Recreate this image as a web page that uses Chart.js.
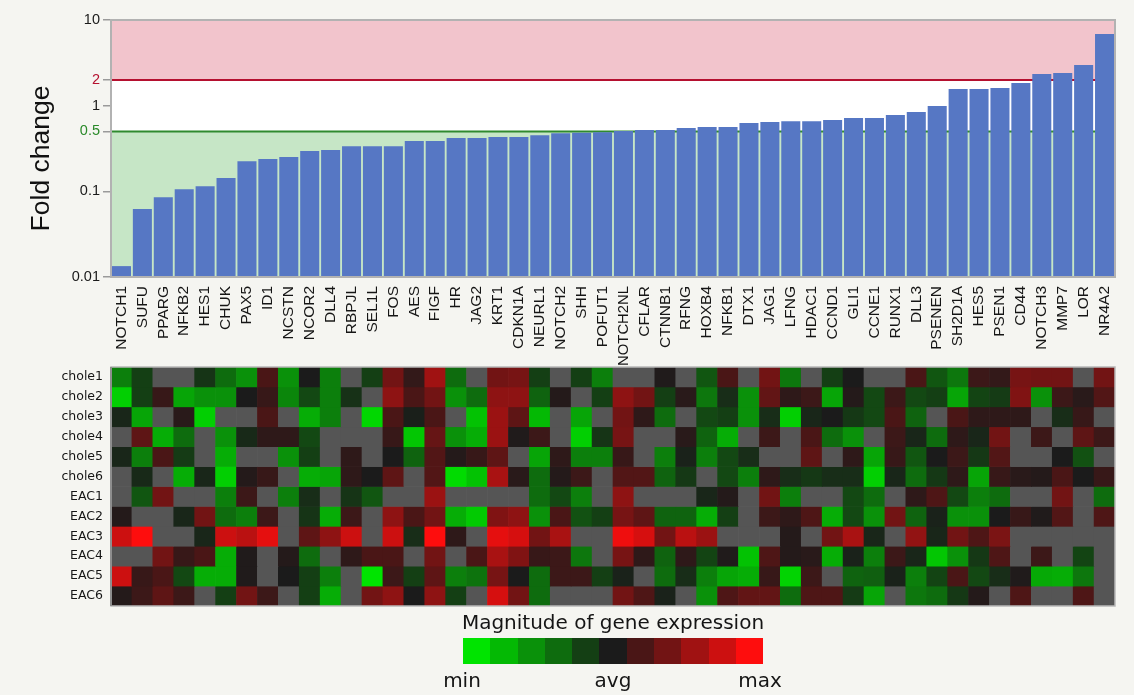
<!DOCTYPE html>
<html>
<head>
<meta charset="utf-8">
<title>Notch pathway gene expression</title>
<script src="https://cdn.jsdelivr.net/npm/chart.js@4.4.1/dist/chart.umd.min.js"></script>
<style>
  html, body { margin: 0; padding: 0; background: #f5f5f1; }
  #wrap { position: relative; width: 1134px; height: 695px; overflow: hidden; }
  #barsCanvas { position: absolute; left: 0; top: 0; }
  #heatCanvas { position: absolute; left: 0; top: 358px; }
  .key-text { position: absolute; font-family: "DejaVu Sans", sans-serif; font-size: 20px; color: #151515;
              line-height: 24px; white-space: nowrap; transform: translateX(-50%); }
  #keyBar { position: absolute; left: 463px; top: 638px; height: 26px; display: flex; }
  #keyBar div { width: 27.3px; height: 26px; }
</style>
</head>
<body>
<div id="wrap">
  <canvas id="barsCanvas" width="1134" height="372"></canvas>
  <canvas id="heatCanvas" width="1134" height="258"></canvas>
  <div class="key-text" style="left:613px; top:610px;">Magnitude of gene expression</div>
  <div id="keyBar"></div>
  <div class="key-text" style="left:462px; top:668px;">min</div>
  <div class="key-text" style="left:613px; top:668px;">avg</div>
  <div class="key-text" style="left:760px; top:668px;">max</div>
</div>
<script>
// ---- data -------------------------------------------------------------
const genes = ['NOTCH1','SUFU','PPARG','NFKB2','HES1','CHUK','PAX5','ID1','NCSTN','NCOR2','DLL4','RBPJL',
  'SEL1L','FOS','AES','FIGF','HR','JAG2','KRT1','CDKN1A','NEURL1','NOTCH2','SHH','POFUT1',
  'NOTCH2NL','CFLAR','CTNNB1','RFNG','HOXB4','NFKB1','DTX1','JAG1','LFNG','HDAC1','CCND1','GLI1',
  'CCNE1','RUNX1','DLL3','PSENEN','SH2D1A','HES5','PSEN1','CD44','NOTCH3','MMP7','LOR','NR4A2'];

const foldChange = [0.0134, 0.062, 0.0855, 0.106, 0.115, 0.143, 0.225, 0.238, 0.251, 0.295, 0.303, 0.337,
  0.337, 0.337, 0.386, 0.386, 0.418, 0.418, 0.43, 0.43, 0.453, 0.478, 0.484, 0.489,
  0.505, 0.519, 0.519, 0.547, 0.562, 0.562, 0.626, 0.643, 0.66, 0.66, 0.679, 0.716,
  0.716, 0.776, 0.842, 0.989, 1.56, 1.56, 1.61, 1.84, 2.34, 2.40, 2.98, 6.86];

const upThreshold = 2;
const downThreshold = 0.5;
const foldTicks = [0.01, 0.1, 0.5, 1, 2, 10];

// relative expression per sample (-5 = min, 0 = avg, 5 = max, null = not measured)
const sampleNames = ['chole1','chole2','chole3','chole4','chole5','chole6','EAC1','EAC2','EAC3','EAC4','EAC5','EAC6'];
const chole1 = [-2.5,-1,null,null,-0.7,-2,-3,1,-3,0,-2.5,null, -1,2,0.5,3,-2,null,2,2.1,-1,null,-1,-2.5,
  null,null,0.1,null,-1.5,1,null,2,-2.3,null,-1,0, null,null,1,-1.5,-2.3,0.7,0.5,2.1,2,2,null,2];
const chole2 = [-4.5,-1,0.6,-3.5,-3,-3,0,0.6,-2.7,-1.2,-2.5,-0.6, null,2.6,1,2,-3,-2,2.6,2.6,-1.8,0.2,null,-1,
  2.6,2,-1,0.3,-2.3,-0.5,-3,1.6,0.4,0.7,-3.5,0.2, -1.2,0.7,-1.2,-1,-3.5,-1.1,-0.9,2.3,-3,0.7,0.3,1.2];
const chole3 = [-0.3,-3.5,null,0.3,-4.5,null,null,1,null,-3.7,-2.5,null, -4.7,1,-0.1,1,null,-4.2,2.9,1.5,-4,null,-3.5,null,
  2,0.4,-2,null,-1.2,-1,-3,-0.5,-4.5,-0.3,0,-0.8, -1.2,1,-1.8,null,1,0.4,0.4,0.4,null,-0.5,0.6,null];
const chole4 = [null,1.5,-3.7,-2,null,-3,-0.4,0.4,0.4,-1.2,null,null, null,0.6,-4.3,1.7,-3,-3.7,2.9,0.1,0.7,null,-4.5,-0.7,
  2.1,null,null,0.3,-1.8,-3.7,null,0.7,null,1,-2,-3, null,0.7,-0.3,-2,0.4,-0.3,2,null,0.7,null,1.5,0.7];
const chole5 = [-0.3,-2.5,1,-0.9,null,-3.7,null,null,-3,-1,null,0.4, null,0,-1.8,1.2,0.2,0.6,1.5,null,-3.5,0.4,-2.5,-2.5,
  0.6,null,-2.5,-0.2,-2.5,-1.2,-0.5,null,null,1.5,null,0.4, -3.5,0.6,-1.5,0,0.7,-0.8,1.2,null,null,0,-1.4,null];
const chole6 = [null,-0.4,null,-3.7,-0.3,-4.5,0.2,0.6,null,-3.7,-3.5,0.4, 0,1.5,null,1.2,-4.8,-4.2,3.2,0.3,-2,0.2,0.7,null,
  1.2,1.2,-1.8,-0.8,null,-1.2,-2.5,0.4,-0.5,-0.8,-0.5,-0.5, -4.5,-0.3,-2,-0.8,0.4,-3.5,0.6,0.3,0.2,1,0,0.6];
const EAC1 = [null,-1.5,2,null,null,-2.5,0.7,null,-2.5,-0.5,null,-0.7, -1.5,null,null,2.9,null,null,null,null,-2,-1.2,-2.5,null,
  2.6,null,null,null,-0.3,0.2,null,2,-2.5,null,null,-1.2, -2,null,0.4,1.1,-1.2,-2.5,-2,null,null,2,null,-2];
const EAC2 = [0.2,null,null,-0.3,2,-2,-2.5,0.7,null,-0.7,-3.7,0.7, null,2.6,1,2,-3.7,-4.4,2.3,2.6,-3,1,-1.4,-1,
  2.1,1.5,-1.8,-1.8,-3.7,-1,null,0.7,0.4,1.1,-3.7,-1.2, -3,2,-1.8,-0.2,-3,-3,0,0.6,0.1,1.2,null,1.1];
const EAC3 = [4,5,null,null,-0.3,4,3.6,4.5,null,1.5,2.6,4, null,4,-0.5,5,0.4,null,4.5,4.2,2,3.2,null,null,
  4.7,4.2,2,3.6,2.9,null,null,null,0.2,null,2,3.2, -0.3,null,2.7,-0.3,2,1.1,2.2,null,null,null,null,null];
const EAC4 = [null,null,2,0.6,1,-3.7,0.1,null,0.2,-2,null,0.4, 1,1,null,2,null,1,3.2,2.3,0.6,0.7,-2.3,null,
  2.1,0.4,-1.8,0.4,-1.1,0.1,-4.2,1.1,0.2,0.3,-3.7,-0.2, -2.5,0.7,-0.3,-4.3,-3,-0.8,1.1,null,0.7,null,-1.1,null];
const EAC5 = [4,0.6,1,-1.2,-3.7,-3.7,0.1,null,0,-1,-2.5,null, -5,0.7,-1,1.5,-2.5,-2.2,2.1,0,-2,0.7,0.7,-1,
  -0.2,null,-2,-0.5,-2.5,-3.5,-3.7,0.6,-4.6,0.7,null,-1.8, -1.7,-0.2,-2.5,-1.1,1,-1.2,-0.5,0.1,-3.6,-3.7,-2.3,null];
const EAC6 = [0.2,0.7,1.5,0.7,null,-1,2,0.7,null,-1,-3.7,null, 2,2.6,0,2.6,-1,null,4.2,2,-2,null,null,null,
  2,1.1,-0.2,null,-3,1.1,1.6,1.6,-2,1.1,1.1,-0.9, -3.5,null,-2.3,-2,-0.8,0.2,null,1.1,null,null,1.1,null];
const sampleRows = [chole1, chole2, chole3, chole4, chole5, chole6, EAC1, EAC2, EAC3, EAC4, EAC5, EAC6];

// colour key, from min (-5) through avg (0) to max (+5)
const levelColors = ['#00e400','#04b904','#0a910a','#0e6c0e','#143f14','#1b1b1b',
                     '#4a1616','#721414','#a01212','#cc1010','#fe0d0d'];
const missingColor = '#555555';

// ---- helpers ----------------------------------------------------------
function hexToRgb(h) {
  return [parseInt(h.slice(1, 3), 16), parseInt(h.slice(3, 5), 16), parseInt(h.slice(5, 7), 16)];
}
function expressionColor(v) {
  if (v === null || v === undefined) return missingColor;
  const t = Math.max(-5, Math.min(5, v)) + 5;
  const i = Math.min(9, Math.floor(t));
  const f = t - i;
  const a = hexToRgb(levelColors[i]), b = hexToRgb(levelColors[i + 1]);
  const c = a.map((x, k) => Math.round(x + (b[k] - x) * f));
  return `rgb(${c[0]},${c[1]},${c[2]})`;
}

const baseFamily = '"Liberation Sans", Arial, sans-serif';
const geneLabelPx = 15.5;
const geneLabelMax = 80;   // longest a rotated gene name may run
const measureCtx = document.createElement('canvas').getContext('2d');
function geneLabelSize(name) {
  measureCtx.font = `${geneLabelPx}px ${baseFamily}`;
  const w = measureCtx.measureText(name).width;
  return w > geneLabelMax ? geneLabelPx * geneLabelMax / w : geneLabelPx;
}

Chart.defaults.font.family = baseFamily;
Chart.defaults.color = '#1a1a1a';
Chart.defaults.animation = false;

// ---- fold-change bar chart -------------------------------------------
const bandsPlugin = {
  id: 'bands',
  beforeDraw(chart) {
    const { ctx, chartArea: a, scales: { y } } = chart;
    const yUp = y.getPixelForValue(upThreshold);
    const yDown = y.getPixelForValue(downThreshold);
    ctx.save();
    ctx.fillStyle = '#f2c4cc';
    ctx.fillRect(a.left, a.top, a.width, yUp - a.top);
    ctx.fillStyle = '#ffffff';
    ctx.fillRect(a.left, yUp, a.width, yDown - yUp);
    ctx.fillStyle = '#c6e6c6';
    ctx.fillRect(a.left, yDown, a.width, a.bottom - yDown);
    // axis title
    ctx.translate(42, (a.top + a.bottom) / 2 + 10);
    ctx.rotate(-Math.PI / 2);
    ctx.font = `26.5px ${baseFamily}`;
    ctx.fillStyle = '#111';
    ctx.textAlign = 'center';
    ctx.textBaseline = 'middle';
    ctx.fillText('Fold change', 0, 0);
    ctx.restore();
  },
  beforeDatasetsDraw(chart) {
    const { ctx, chartArea: a, scales: { y } } = chart;
    ctx.save();
    ctx.lineWidth = 2;
    ctx.strokeStyle = '#b5102f';
    ctx.beginPath();
    ctx.moveTo(a.left, y.getPixelForValue(upThreshold));
    ctx.lineTo(a.right, y.getPixelForValue(upThreshold));
    ctx.stroke();
    ctx.strokeStyle = '#2f8a2f';
    ctx.beginPath();
    ctx.moveTo(a.left, y.getPixelForValue(downThreshold));
    ctx.lineTo(a.right, y.getPixelForValue(downThreshold));
    ctx.stroke();
    ctx.restore();
  },
  afterDraw(chart) {
    const { ctx, chartArea: a } = chart;
    ctx.save();
    ctx.lineWidth = 2;
    ctx.strokeStyle = '#b2b2b2';
    ctx.strokeRect(a.left, a.top, a.width, a.height);
    ctx.restore();
  }
};

new Chart(document.getElementById('barsCanvas'), {
  type: 'bar',
  data: {
    labels: genes,
    datasets: [{
      data: foldChange,
      backgroundColor: '#5677c4',
      borderWidth: 0,
      barPercentage: 0.91,
      categoryPercentage: 1.0
    }]
  },
  options: {
    responsive: false,
    layout: { padding: { left: 24, right: 19, top: 20, bottom: 0 } },
    plugins: { legend: { display: false }, tooltip: { enabled: false } },
    scales: {
      x: {
        type: 'category',
        grid: { display: false, drawTicks: false },
        border: { display: false },
        ticks: {
          autoSkip: false, minRotation: 90, maxRotation: 90, padding: 9,
          font: ctx => ({ size: geneLabelSize(genes[ctx.index] || '') }),
          color: '#151515'
        },
        afterFit(s) { s.height = 95; }
      },
      y: {
        type: 'logarithmic',
        min: 0.01,
        max: 10,
        afterBuildTicks(s) { s.ticks = foldTicks.map(v => ({ value: v })); },
        ticks: {
          callback: v => String(v),
          padding: 3,
          font: { size: 14.5 },
          color: ctx => ctx.tick && ctx.tick.value === upThreshold ? '#b5102f'
                     : (ctx.tick && ctx.tick.value === downThreshold ? '#2a8a2a' : '#1a1a1a')
        },
        grid: { drawOnChartArea: false, drawTicks: true, tickLength: 8, color: '#9a9a9a', lineWidth: 1.5 },
        border: { display: false },
        afterFit(s) { s.width = 87; s.paddingTop = 0; s.paddingBottom = 0; }
      }
    }
  },
  plugins: [bandsPlugin]
});

// ---- expression heat map --------------------------------------------
const framePlugin = {
  id: 'frame',
  afterDraw(chart) {
    const { ctx, chartArea: a } = chart;
    ctx.save();
    ctx.lineWidth = 1.5;
    ctx.strokeStyle = '#b8b8b8';
    ctx.strokeRect(a.left, a.top, a.width, a.height);
    ctx.lineWidth = 2;
    ctx.strokeStyle = '#8e8e8e';
    ctx.beginPath();
    ctx.moveTo(a.left, a.top);
    ctx.lineTo(a.left, a.bottom);
    ctx.stroke();
    ctx.restore();
  }
};

new Chart(document.getElementById('heatCanvas'), {
  type: 'bar',
  data: {
    labels: genes,
    datasets: sampleRows.map((row, r) => ({
      label: sampleNames[r],
      data: genes.map(() => [r, r + 1]),
      backgroundColor: row.map(expressionColor),
      borderWidth: 0,
      grouped: false,
      barPercentage: 1,
      categoryPercentage: 1
    }))
  },
  options: {
    responsive: false,
    layout: { padding: { left: 0, right: 19, top: 9, bottom: 10 } },
    plugins: { legend: { display: false }, tooltip: { enabled: false } },
    scales: {
      x: { type: 'category', display: false },
      y: {
        type: 'linear',
        min: 0,
        max: sampleNames.length,
        reverse: true,
        afterBuildTicks(s) { s.ticks = sampleNames.map((_, i) => ({ value: i + 0.5 })); },
        ticks: {
          callback: (v, i) => sampleNames[i],
          padding: 8,
          font: { family: '"DejaVu Sans", sans-serif', size: 12.5 },
          color: '#151515'
        },
        grid: { display: false, drawTicks: false },
        border: { display: false },
        afterFit(s) { s.width = 111; s.paddingTop = 0; s.paddingBottom = 0; }
      }
    }
  },
  plugins: [framePlugin]
});

// ---- colour key -------------------------------------------------------
const keyBar = document.getElementById('keyBar');
levelColors.forEach(c => {
  const sw = document.createElement('div');
  sw.style.background = c;
  keyBar.appendChild(sw);
});
</script>
</body>
</html>
